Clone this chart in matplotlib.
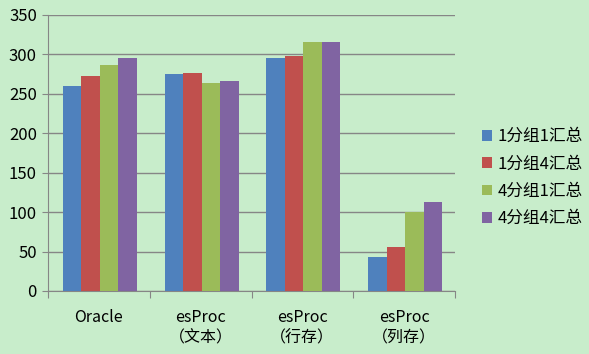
import matplotlib.pyplot as plt
import numpy as np

plt.rcParams['font.family'] = ['Noto Sans CJK SC', 'DejaVu Sans']

categories = ["Oracle", "esProc\n（文本）", "esProc\n（行存）", "esProc\n（列存）"]
series_names = ["1分组1汇总", "1分组4汇总", "4分组1汇总", "4分组4汇总"]
s1 = [260, 275, 295, 43]
s2 = [272, 276, 298, 56]
s3 = [286, 264, 315, 100]
s4 = [295, 266, 315, 113]
colors = ["#4F81BD", "#C0504D", "#9BBB59", "#8064A2"]
bg = "#C8EDCB"


def main():
    fig = plt.figure(figsize=(5.89, 3.54), dpi=100, facecolor=bg)
    ax = fig.add_axes([0.0815, 0.178, 0.691, 0.780])
    ax.set_facecolor(bg)

    x = np.arange(len(categories))
    w = 0.182
    for i, (vals, name) in enumerate(zip([s1, s2, s3, s4], series_names)):
        ax.bar(x + (i - 1.45) * w, vals, w, color=colors[i], label=name, zorder=3)

    ax.set_xlim(-0.5, len(categories) - 0.5)
    ax.set_ylim(0, 350)
    ax.set_yticks(range(0, 351, 50))
    ax.yaxis.grid(True, color="#868686", linewidth=1, zorder=0)

    for side in ["top", "right"]:
        ax.spines[side].set_visible(False)
    ax.spines["left"].set_color("#868686")
    ax.spines["bottom"].set_color("#868686")

    ax.set_xticks(np.arange(-0.5, len(categories), 1.0))
    ax.set_xticklabels([])
    ax.set_xticks(x, minor=True)
    ax.set_xticklabels(categories, minor=True, fontsize=11.5, linespacing=1.3)
    ax.tick_params(axis="x", which="major", length=5, color="#868686")
    ax.tick_params(axis="x", which="minor", length=0, pad=13)
    ax.tick_params(axis="y", length=4, color="#868686", labelsize=12, pad=4)

    ax.legend(loc="center left", bbox_to_anchor=(1.03, 0.41), frameon=False,
              fontsize=12, handlelength=0.6, handleheight=0.6,
              handletextpad=0.3, labelspacing=0.62)

    fig.savefig("out.png", dpi=100, facecolor=bg)
    plt.close(fig)


if __name__ == "__main__":
    main()
